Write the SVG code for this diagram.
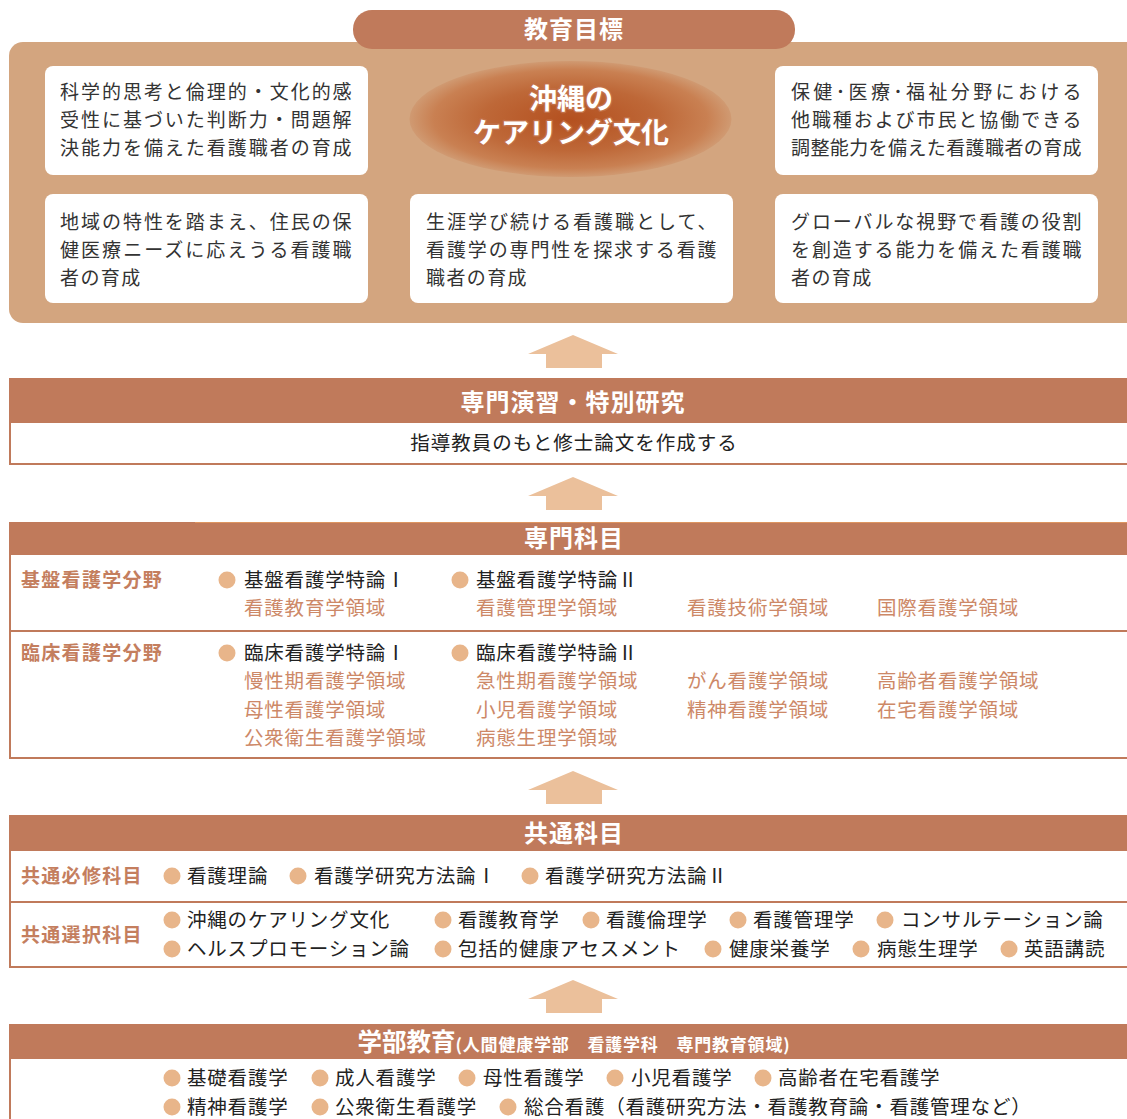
<svg xmlns="http://www.w3.org/2000/svg" width="1127" height="1119" viewBox="0 0 1127 1119">
<defs>
<radialGradient id="eg" cx="0.5" cy="0.5" r="0.5">
<stop offset="0" stop-color="#B4501F"/>
<stop offset="0.55" stop-color="#BE6838"/>
<stop offset="0.85" stop-color="#C98052"/>
<stop offset="1" stop-color="#D09A72"/>
</radialGradient>
<path id="arw" d="M0 0 L45 19 L29 19 L29 33 L-27 33 L-27 19 L-45 19 Z"/>
</defs>
<style>
text{font-family:"Noto Sans CJK JP","Noto Sans",sans-serif;}
.hd{fill:#C07A5B;}
.tan{fill:#D3A57F;}
.wb{fill:#FFFFFF;}
.bt{font-size:19px;fill:#333333;letter-spacing:1.4px;}
.ht{font-size:24px;fill:#FFFFFF;font-weight:bold;text-anchor:middle;letter-spacing:1px;}
.tx{font-size:19.5px;fill:#222222;letter-spacing:0.8px;}
.dm{font-size:19.5px;fill:#CD8867;letter-spacing:0.8px;}
.lb{font-size:19px;fill:#C47E5E;font-weight:bold;letter-spacing:1.3px;}
.bl{fill:#E8B58A;}
.ln{stroke:#C07A5B;stroke-width:2;fill:none;}
.ar{fill:#EBC09B;}
.ct{font-size:28px;font-weight:bold;fill:#FFFFFF;stroke:#C27048;stroke-width:3;paint-order:stroke;stroke-linejoin:round;text-anchor:middle;}
</style>

<g id="goals">
<rect class="tan" x="9" y="42" width="1140" height="281" rx="14"/>
<rect class="hd" x="353" y="10" width="442" height="39" rx="19"/>
<text class="ht" x="574" y="38">教育目標</text>
<g id="goal1">
<rect class="wb" x="45" y="66" width="323" height="109" rx="8"/>
<text class="bt" x="60" y="99" textLength="293" lengthAdjust="spacing">科学的思考と倫理的・文化的感</text>
<text class="bt" x="60" y="127" textLength="293" lengthAdjust="spacing">受性に基づいた判断力・問題解</text>
<text class="bt" x="60" y="155" textLength="293" lengthAdjust="spacing">決能力を備えた看護職者の育成</text>
</g>
<g id="goal2">
<rect class="wb" x="775" y="66" width="323" height="109" rx="8"/>
<text class="bt" x="791" y="99" textLength="292" lengthAdjust="spacing">保健･医療･福祉分野における</text>
<text class="bt" x="791" y="127" textLength="292" lengthAdjust="spacing">他職種および市民と協働できる</text>
<text class="bt" x="791" y="155" textLength="292" lengthAdjust="spacing">調整能力を備えた看護職者の育成</text>
</g>
<g id="goal3">
<rect class="wb" x="45" y="194" width="323" height="109" rx="8"/>
<text class="bt" x="60" y="229" textLength="293" lengthAdjust="spacing">地域の特性を踏まえ、住民の保</text>
<text class="bt" x="60" y="257" textLength="293" lengthAdjust="spacing">健医療ニーズに応えうる看護職</text>
<text class="bt" x="60" y="285">者の育成</text>
</g>
<g id="goal4">
<rect class="wb" x="410" y="194" width="323" height="109" rx="8"/>
<text class="bt" x="426" y="229" textLength="292" lengthAdjust="spacing">生涯学び続ける看護職として、</text>
<text class="bt" x="426" y="257" textLength="292" lengthAdjust="spacing">看護学の専門性を探求する看護</text>
<text class="bt" x="426" y="285">職者の育成</text>
</g>
<g id="goal5">
<rect class="wb" x="775" y="194" width="323" height="109" rx="8"/>
<text class="bt" x="791" y="229" textLength="292" lengthAdjust="spacing">グローバルな視野で看護の役割</text>
<text class="bt" x="791" y="257" textLength="292" lengthAdjust="spacing">を創造する能力を備えた看護職</text>
<text class="bt" x="791" y="285">者の育成</text>
</g>
<g id="core">
<ellipse cx="570.5" cy="119" rx="161" ry="58" fill="url(#eg)"/>
<text class="ct"><tspan x="571" y="109">沖縄の</tspan><tspan x="571" y="143">ケアリング文化</tspan></text>
</g>
</g>

<g id="connectors">
<use href="#arw" class="ar" x="573" y="335"/>
<use href="#arw" class="ar" x="573" y="477"/>
<use href="#arw" class="ar" x="573" y="771"/>
<use href="#arw" class="ar" x="573" y="980"/>
</g>

<g id="research">
<rect class="hd" x="9" y="378" width="1130" height="45"/>
<text class="ht" x="573" y="411">専門演習・特別研究</text>
<path class="ln" d="M10 423 V464 H1127"/>
<text x="574" y="450" text-anchor="middle" style="font-size:19.5px;fill:#222222;letter-spacing:1px">指導教員のもと修士論文を作成する</text>
</g>

<g id="specialty">
<rect class="hd" x="9" y="522" width="1130" height="33"/>
<line x1="195" y1="522.5" x2="1127" y2="522.5" stroke="#DE9560" stroke-width="1"/>
<text class="ht" x="574" y="547">専門科目</text>
<path class="ln" d="M10 555 V758 H1127 M10 631 H1127"/>
<text class="lb" x="21" y="587">基盤看護学分野</text>
<circle class="bl" cx="227" cy="580" r="8.5"/>
<text class="tx" x="244" y="587">基盤看護学特論Ⅰ</text>
<circle class="bl" cx="460" cy="580" r="8.5"/>
<text class="tx" x="476" y="587">基盤看護学特論Ⅱ</text>
<text class="dm" x="244" y="615">看護教育学領域</text>
<text class="dm" x="476" y="615">看護管理学領域</text>
<text class="dm" x="687" y="615">看護技術学領域</text>
<text class="dm" x="877" y="615">国際看護学領域</text>
<text class="lb" x="21" y="660">臨床看護学分野</text>
<circle class="bl" cx="227" cy="653" r="8.5"/>
<text class="tx" x="244" y="660">臨床看護学特論Ⅰ</text>
<circle class="bl" cx="460" cy="653" r="8.5"/>
<text class="tx" x="476" y="660">臨床看護学特論Ⅱ</text>
<text class="dm" x="244" y="688">慢性期看護学領域</text>
<text class="dm" x="476" y="688">急性期看護学領域</text>
<text class="dm" x="687" y="688">がん看護学領域</text>
<text class="dm" x="877" y="688">高齢者看護学領域</text>
<text class="dm" x="244" y="717">母性看護学領域</text>
<text class="dm" x="476" y="717">小児看護学領域</text>
<text class="dm" x="687" y="717">精神看護学領域</text>
<text class="dm" x="877" y="717">在宅看護学領域</text>
<text class="dm" x="244" y="745">公衆衛生看護学領域</text>
<text class="dm" x="476" y="745">病態生理学領域</text>
</g>

<g id="common">
<rect class="hd" x="9" y="815" width="1130" height="36"/>
<text class="ht" x="574" y="842">共通科目</text>
<path class="ln" d="M10 851 V967 H1127 M10 902 H1127"/>
<text class="lb" x="21" y="883">共通必修科目</text>
<circle class="bl" cx="172" cy="876" r="8.5"/>
<text class="tx" x="187" y="883">看護理論</text>
<circle class="bl" cx="298" cy="876" r="8.5"/>
<text class="tx" x="314" y="883">看護学研究方法論Ⅰ</text>
<circle class="bl" cx="530" cy="876" r="8.5"/>
<text class="tx" x="545" y="883">看護学研究方法論Ⅱ</text>
<text class="lb" x="21" y="942">共通選択科目</text>
<circle class="bl" cx="172" cy="920" r="8.5"/>
<text class="tx" x="187" y="927">沖縄のケアリング文化</text>
<circle class="bl" cx="443" cy="920" r="8.5"/>
<text class="tx" x="458" y="927">看護教育学</text>
<circle class="bl" cx="591" cy="920" r="8.5"/>
<text class="tx" x="606" y="927">看護倫理学</text>
<circle class="bl" cx="738" cy="920" r="8.5"/>
<text class="tx" x="753" y="927">看護管理学</text>
<circle class="bl" cx="885" cy="920" r="8.5"/>
<text class="tx" x="901" y="927">コンサルテーション論</text>
<circle class="bl" cx="172" cy="949" r="8.5"/>
<text class="tx" x="187" y="956">ヘルスプロモーション論</text>
<circle class="bl" cx="443" cy="949" r="8.5"/>
<text class="tx" x="458" y="956">包括的健康アセスメント</text>
<circle class="bl" cx="713" cy="949" r="8.5"/>
<text class="tx" x="729" y="956">健康栄養学</text>
<circle class="bl" cx="861" cy="949" r="8.5"/>
<text class="tx" x="877" y="956">病態生理学</text>
<circle class="bl" cx="1009" cy="949" r="8.5"/>
<text class="tx" x="1024" y="956">英語講読</text>
</g>

<g id="undergrad">
<rect class="hd" x="9" y="1024" width="1130" height="35"/>
<text x="574" y="1051" text-anchor="middle" style="fill:#FFFFFF;font-weight:bold"><tspan style="font-size:24.5px">学部教育</tspan><tspan style="font-size:17px;letter-spacing:0.8px">(人間健康学部　看護学科　専門教育領域)</tspan></text>
<path class="ln" d="M10 1059 V1119"/>
<circle class="bl" cx="172" cy="1078" r="8.5"/>
<text class="tx" x="187" y="1085">基礎看護学</text>
<circle class="bl" cx="320" cy="1078" r="8.5"/>
<text class="tx" x="335" y="1085">成人看護学</text>
<circle class="bl" cx="467" cy="1078" r="8.5"/>
<text class="tx" x="483" y="1085">母性看護学</text>
<circle class="bl" cx="615" cy="1078" r="8.5"/>
<text class="tx" x="631" y="1085">小児看護学</text>
<circle class="bl" cx="763" cy="1078" r="8.5"/>
<text class="tx" x="778" y="1085">高齢者在宅看護学</text>
<circle class="bl" cx="172" cy="1107" r="8.5"/>
<text class="tx" x="187" y="1114">精神看護学</text>
<circle class="bl" cx="320" cy="1107" r="8.5"/>
<text class="tx" x="335" y="1114">公衆衛生看護学</text>
<circle class="bl" cx="508" cy="1107" r="8.5"/>
<text class="tx" x="524" y="1114">総合看護（看護研究方法・看護教育論・看護管理など）</text>
</g>
</svg>
